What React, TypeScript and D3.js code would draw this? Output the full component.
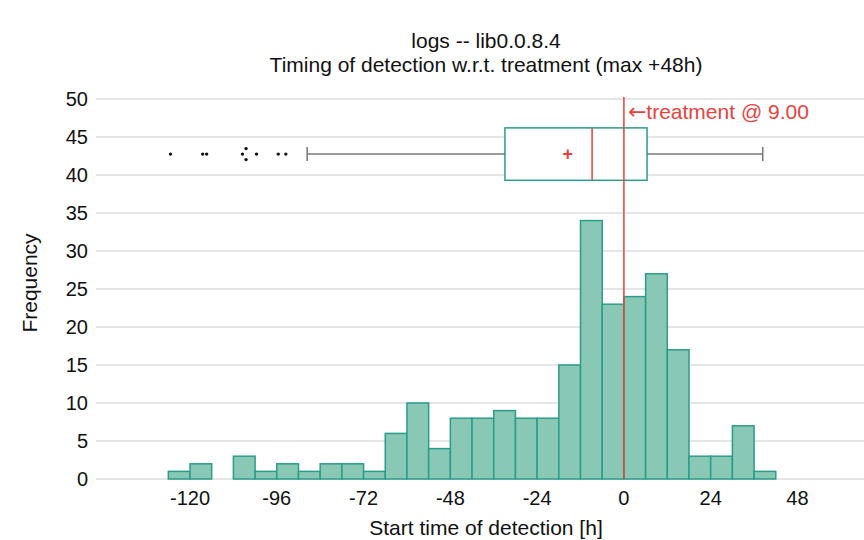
import React from "react";
import * as d3 from "d3";

const width = 864;
const height = 540;

// histogram: 6h bins starting at -126
const binStart = -126;
const binWidth = 6;
const counts = [1, 2, 0, 3, 1, 2, 1, 2, 2, 1, 6, 10, 4, 8, 8, 9, 8, 8, 15, 34, 23, 24, 27, 17, 3, 3, 7, 1];

const xTicks = [-120, -96, -72, -48, -24, 0, 24, 48];
const yTicks = [0, 5, 10, 15, 20, 25, 30, 35, 40, 45, 50];

// box plot summary (hours)
const boxStats = { whiskerLo: -87.6, q1: -32.9, median: -8.8, q3: 6.4, whiskerHi: 38.4, mean: -15.5 };
const boxLevel = [39.3, 46.2];
const outliers = [-125.4, -116.5, -115.4, -105.5, -104.5, -104.5, -101.6, -95.6, -93.5];
const outlierSlot = [0, 0, 0, 0, -1, 1, 0, 0, 0];

const treatment = 0;
const treatmentLabel = "treatment @ 9.00";

const font = "'Liberation Sans', Arial, sans-serif";
const teal = "#2a9d8a";
const barFill = "#88c8b4";
const red = "#e8423c";

const App = () => {
  const x = d3.scaleLinear().domain([-146, 66.4]).range([96, 864]);
  const y = d3.scaleLinear().domain([0, 50]).range([479, 99]);
  const bins = counts.map((c, i) => ({ x0: binStart + i * binWidth, x1: binStart + (i + 1) * binWidth, c }));
  const yMid = (y(boxLevel[0]) + y(boxLevel[1])) / 2;

  return (
    <svg width={width} height={height} style={{ position: "absolute", left: 0, top: 0 }} fontFamily={font}>
      <rect width={width} height={height} fill="white" />
      <text x={486} y={48} textAnchor="middle" fontSize={21} fill="#111">logs -- lib0.0.8.4</text>
      <text x={486} y={72} textAnchor="middle" fontSize={21} fill="#111">Timing of detection w.r.t. treatment (max +48h)</text>

      {yTicks.map(t => (
        <g key={t}>
          <line x1={96} x2={864} y1={y(t)} y2={y(t)} stroke="#dcdcdc" strokeWidth={1.5} />
          <text x={88} y={y(t) + 7} textAnchor="end" fontSize={20} fill="#111">{t}</text>
        </g>
      ))}

      {bins.filter(b => b.c > 0).map((b, i) => (
        <rect
          key={i}
          x={x(b.x0)}
          y={y(b.c)}
          width={x(b.x1) - x(b.x0)}
          height={y(0) - y(b.c)}
          fill={barFill}
          stroke={teal}
          strokeWidth={1.5}
        />
      ))}

      {xTicks.map(t => (
        <text key={t} x={x(t)} y={505} textAnchor="middle" fontSize={20} fill="#111">{t}</text>
      ))}

      {/* box plot */}
      <line x1={x(boxStats.whiskerLo)} x2={x(boxStats.q1)} y1={yMid} y2={yMid} stroke="#777" strokeWidth={1.5} />
      <line x1={x(boxStats.q3)} x2={x(boxStats.whiskerHi)} y1={yMid} y2={yMid} stroke="#777" strokeWidth={1.5} />
      <line x1={x(boxStats.whiskerLo)} x2={x(boxStats.whiskerLo)} y1={yMid - 7} y2={yMid + 7} stroke="#777" strokeWidth={1.5} />
      <line x1={x(boxStats.whiskerHi)} x2={x(boxStats.whiskerHi)} y1={yMid - 7} y2={yMid + 7} stroke="#777" strokeWidth={1.5} />
      <rect
        x={x(boxStats.q1)}
        y={y(boxLevel[1])}
        width={x(boxStats.q3) - x(boxStats.q1)}
        height={y(boxLevel[0]) - y(boxLevel[1])}
        fill="white"
        stroke={teal}
        strokeWidth={1.5}
      />
      <line x1={x(boxStats.median)} x2={x(boxStats.median)} y1={y(boxLevel[1])} y2={y(boxLevel[0])} stroke={red} strokeWidth={1.5} />
      <text x={x(boxStats.mean)} y={yMid + 6} textAnchor="middle" fontSize={18} fontWeight="bold" fill={red}>+</text>
      {outliers.map((o, i) => (
        <circle key={i} cx={x(o)} cy={yMid + outlierSlot[i] * 5.5} r={1.7} fill="#111" />
      ))}

      {/* treatment */}
      <line x1={x(treatment)} x2={x(treatment)} y1={97} y2={y(0)} stroke={red} strokeWidth={1.5} />
      <text x={x(treatment) + 4} y={119} fontSize={21} fill={red}>
        <tspan fontFamily="'DejaVu Sans', sans-serif" fontSize={22}>←</tspan>{treatmentLabel}
      </text>

      <text x={486} y={535} textAnchor="middle" fontSize={21} fill="#111">Start time of detection [h]</text>
      <text transform="translate(37,283) rotate(-90)" textAnchor="middle" fontSize={21} fill="#111">Frequency</text>
    </svg>
  );
};

export default App;
